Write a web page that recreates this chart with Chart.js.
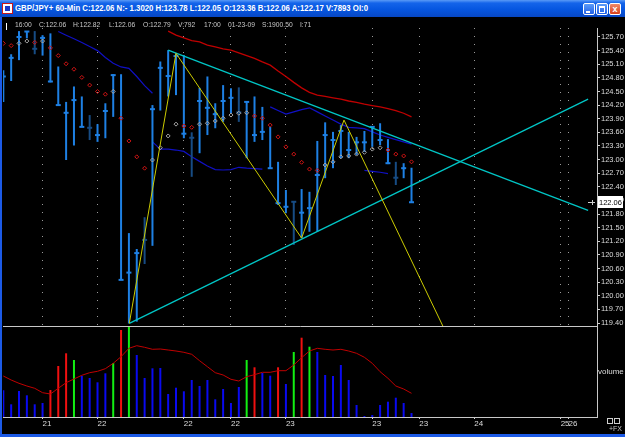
<!DOCTYPE html>
<html>
<head>
<meta charset="utf-8">
<title>GBP/JPY 60-Min</title>
<script src="https://cdn.jsdelivr.net/npm/chart.js@4.4.1/dist/chart.umd.min.js"></script>
<style>
    html, body { margin: 0; padding: 0; background: #000; }
    #win { position: relative; width: 625px; height: 437px; overflow: hidden; background: #000; font-family: "Liberation Sans", Arial, sans-serif; }
    #titlebar { position: absolute; left: 0; top: 0; width: 625px; height: 17px; background: linear-gradient(#5a9af6 0%, #1464ea 18%, #0656e0 55%, #0747c4 100%); }
    #icon { position: absolute; left: 2px; top: 3px; width: 9px; height: 9px; background: #fff; border: 1px solid #c81818; }
    #icon i { position: absolute; left: 2px; top: 2px; width: 5px; height: 5px; background: #1838c8; }
    #titletext { position: absolute; left: 15px; top: 3px; color: #fff; font-weight: bold; font-size: 9px; line-height: 11px; white-space: nowrap; transform-origin: 0 0; display: inline-block; }
    .btn { position: absolute; top: 3px; width: 10px; height: 10px; border: 1px solid #fff; border-radius: 2px; background: linear-gradient(#5c9cf8, #2060e8); }
    #bmin { left: 583px; }
    #bmin i { position: absolute; left: 2px; top: 7px; width: 4px; height: 2px; background: #fff; }
    #bmax { left: 596px; }
    #bmax i { position: absolute; left: 2px; top: 2px; width: 4px; height: 4px; border: 1px solid #fff; border-top-width: 2px; }
    #bclose { left: 609px; background: linear-gradient(#f08a6a, #d8401c); color: #fff; font: bold 9px/10px "Liberation Sans", Arial, sans-serif; text-align: center; }
    #cursor { position: absolute; left: 6px; top: 23px; width: 1px; height: 7px; background: #fff; }
    .info { position: absolute; top: 20px; color: #c8c8c8; font-size: 8px; line-height: 10px; white-space: nowrap; transform: scaleX(0.84); transform-origin: 0 0; }
    canvas { position: absolute; left: 0; }
    #frameLeft { position: absolute; left: 0; top: 17px; width: 2px; height: 420px; background: #1c5ae6; }
    #frameBottom { position: absolute; left: 0; top: 434px; width: 625px; height: 3px; background: #1c5ae6; }
    .sq { position: absolute; top: 418px; width: 4px; height: 4px; border: 1px solid #d0d0d0; }
    #fx { position: absolute; left: 609px; top: 425px; color: #c8c8c8; font-size: 7px; line-height: 8px; }
</style>
</head>
<body>
<div id="win">
    <div id="titlebar">
        <div id="icon"><i></i></div>
        <span id="titletext">GBP/JPY+ 60-Min C:122.06 N:- 1.3020 H:123.78 L:122.05 O:123.36 B:122.06 A:122.17 V:7893 OI:0</span>
        <div class="btn" id="bmin"><i></i></div>
        <div class="btn" id="bmax"><i></i></div>
        <div class="btn" id="bclose">x</div>
    </div>

    <canvas id="priceChart" width="625" height="310" style="top:17px;width:625px;height:310px"></canvas>
    <canvas id="volumeChart" width="625" height="110" style="top:327px;width:625px;height:110px"></canvas>

    <div id="cursor"></div>
    <span class="info" style="left:15px">16:00</span>
    <span class="info" style="left:39px">C:122.06</span>
    <span class="info" style="left:73px">H:122.82</span>
    <span class="info" style="left:109px">L:122.06</span>
    <span class="info" style="left:143px">O:122.79</span>
    <span class="info" style="left:178px">V:792</span>
    <span class="info" style="left:204px">17:00</span>
    <span class="info" style="left:228px">01-23-09</span>
    <span class="info" style="left:262px">S:1900.50</span>
    <span class="info" style="left:300px">I:71</span>

    <div id="frameLeft"></div>
    <div id="frameBottom"></div>
    <div class="sq" style="left:607px"></div>
    <div class="sq" style="left:614px"></div>
    <div id="fx">+FX</div>
</div>

<script>
// hourly bars, index 0..52
const highs = [
    124.97, 125.32, 125.83, 125.83, 125.83, 125.74, 125.78, 125.05, 124.27, 124.61,
    124.39, 123.98, 123.78, 124.24, 124.88, 124.88, 121.38, 121.03, 121.73, 124.20,
    125.16, 125.41, 125.34, 125.30, 123.60, 124.58, 124.83, 124.24, 124.64, 124.57,
    124.59, 124.27, 124.39, 124.16, 123.72, 122.95, 122.33, 122.07, 122.35, 122.29,
    123.41, 123.82, 123.61, 123.76, 123.61, 123.50, 123.63, 123.72, 123.80, 123.45,
    122.95, 122.92, 122.82
];
const lows = [
    124.27, 124.73, 125.19, 125.67, 125.32, 125.29, 124.70, 124.20, 122.99, 123.31,
    123.72, 123.43, 123.39, 123.47, 123.94, 120.35, 119.39, 119.43, 120.70, 121.10,
    124.08, 124.39, 124.42, 123.47, 122.62, 123.14, 123.54, 123.69, 123.83, 124.02,
    123.83, 123.03, 123.39, 123.43, 122.81, 122.00, 121.82, 121.12, 121.27, 121.41,
    121.41, 122.59, 122.81, 123.03, 123.03, 123.10, 123.17, 123.28, 123.32, 122.90,
    122.44, 122.59, 122.06
];
const closes = [
    124.83, 125.24, 125.70, 125.82, 125.44, 125.68, 124.72, 124.20, 124.03, 124.31,
    123.72, 123.70, 123.54, 124.07, 124.86, 120.35, 120.51, 120.94, 121.23, 124.11,
    125.02, 124.84, 125.28, 123.57, 123.48, 124.29, 124.14, 124.00, 124.29, 124.36,
    124.04, 124.27, 123.54, 123.61, 122.81, 122.04, 121.96, 122.07, 121.83, 121.93,
    122.66, 123.54, 123.43, 123.63, 123.21, 123.38, 123.38, 123.72, 123.43, 122.92,
    122.60, 122.81, 122.06
];
// bars drawn in the darker shade
const shadedBars = [4, 11, 18, 24, 30, 37, 50];

// diamond indicator
const dots = [
    125.56, 125.51, 125.56, 125.61, 125.58, 125.61, 125.46, 125.29, 125.11, 124.99,
    124.81, 124.64, 124.50, 124.44, 124.50, 123.91, 123.41, 123.06, 122.81, 122.99,
    123.26, 123.52, 123.78, 123.74, 123.71, 123.78, 123.80, 123.85, 123.91, 123.98,
    124.02, 124.03, 123.96, 123.91, 123.76, 123.50, 123.28, 123.12, 122.94, 122.79,
    122.76, 122.88, 122.95, 123.06, 123.08, 123.12, 123.16, 123.23, 123.26, 123.21,
    123.12, 123.08, 122.95
];

// red moving average and the blue band pieces
const redAverage = [
    null, null, null, null, null, null, null, null, null, null,
    null, null, null, null, null, null, null, null, null, null,
    null, 125.83, 125.74, 125.68, 125.62, 125.59, 125.52, 125.48, 125.44, 125.41,
    125.35, 125.29, 125.23, 125.15, 125.08, 124.95, 124.83, 124.70, 124.58, 124.48,
    124.42, 124.39, 124.36, 124.33, 124.29, 124.26, 124.22, 124.19, 124.16, 124.12,
    124.08, 124.02, 123.94
];
const upperBand = [
    null, null, null, null, null, null, null, 125.82, 125.74, 125.66,
    125.58, 125.49, 125.40, 125.25, 125.12, 125.04, 125.01, 124.83, 124.63, 124.46,
    null, null, null, null, null, null, null, null, null, null,
    null, null, null, null, 124.16, 124.08, 124.00, 124.05, 124.10, 124.14,
    124.05, 123.96, 123.87, 123.78, 123.71, 123.70, 123.68, 123.61, 123.54, 123.49,
    123.44, 123.39, 123.34
];
const lowerBand = [
    null, null, null, null, null, null, null, null, null, null,
    null, null, null, null, null, null, null, null, null, 123.39,
    123.23, 123.23, 123.21, 123.18, 123.06, 122.96, 122.86, 122.78, 122.77, 122.78,
    122.83, 122.81, 122.80, 122.79, null, null, null, null, null, null,
    null, null, null, null, null, null, 122.76, 122.74, 122.72, 122.69,
    null, null, null
];

// drawn studies: [bar index, price]
const resistanceLine = [[21.0, 125.41], [74.5, 121.88]];
const supportLine = [[16.05, 119.39], [74.5, 124.33]];
const zigzag = [[16.05, 119.39], [22.0, 125.34], [38.0, 121.27], [43.4, 123.87], [56.0, 119.33]];

// volume and its average
const volumes = [
    5340, 2540, 5200, 4340, 2540, 2800, 5400, 10200, 12740, 11400,
    8200, 7800, 6940, 8740, 10800, 17400, 18060, 12400, 7800, 9740,
    9800, 4600, 5860, 5140, 7400, 6200, 7400, 3540, 5600, 2800,
    6000, 11400, 9940, 8800, 8260, 9940, 6600, 13000, 15860, 14060,
    13000, 8400, 8200, 10400, 7400, 2400, 200, 400, 2400, 3060,
    3860, 2800, 792
];
const volumeAverage = [
    8200, 7400, 6740, 6200, 5740, 4860, 4600, 5740, 6860, 7600,
    8340, 8860, 9140, 9660, 10740, 12060, 13740, 14260, 13940, 13540,
    13600, 13400, 13200, 12940, 12540, 11260, 10060, 8860, 8400, 7540,
    7200, 8060, 8460, 8940, 8940, 9260, 9260, 10400, 11860, 13200,
    13740, 13540, 13400, 13540, 13200, 12740, 11940, 10740, 9060, 7740,
    6200, 5600, 4740
];

// axes
const priceTicks = [
    119.40, 119.70, 120.00, 120.30, 120.60, 120.90, 121.20, 121.50, 121.80, 122.10,
    122.40, 122.70, 123.00, 123.30, 123.60, 123.90, 124.20, 124.50, 124.80, 125.10,
    125.40, 125.70
];
const dateTickIndex = [5, 12, 23, 29, 36, 47, 53, 60, 71, 72];
const dateTickLabels = ["21", "22", "22", "22", "23", "23", "23", "24", "25", "26"];
const volumeLabel = "volume";

const X_MIN = -0.04, X_MAX = 75.63;
const FONT_FAMILY = "'Liberation Sans', Arial, sans-serif";
const AXIS_FONT = { family: FONT_FAMILY, size: 7.5 };

let priceChart, volumeChart;

function fixedAxis(size) {
    return scale => {
        if (scale.isHorizontal()) {
            scale.height = size;
            scale.paddingLeft = 0;
            scale.paddingRight = 0;
        } else {
            scale.width = size;
            scale.paddingTop = 0;
            scale.paddingBottom = 0;
        }
    };
}

function series(values) {
    return values.map((v, i) => ({ x: i, y: v }));
}

function points(list) {
    return list.map(p => ({ x: p[0], y: p[1] }));
}

function barColor(i) {
    return shadedBars.includes(i) ? "#174c84" : "#1e80e4";
}

function volumeColor(i) {
    if (volumes[i] < volumeAverage[i]) return "#0a0af0";
    return i > 0 && closes[i] < closes[i - 1] ? "#f01010" : "#12f012";
}

// current price box on the right axis
const lastPriceLabel = {
    id: "lastPriceLabel",
    afterDraw(chart) {
        const { ctx, chartArea, scales } = chart;
        const last = closes[closes.length - 1];
        const y = Math.round(scales.y.getPixelForValue(last));
        ctx.save();
        ctx.fillStyle = "#ffffff";
        ctx.fillRect(chartArea.right + 1, y - 6, 25, 12);
        ctx.fillStyle = "#000000";
        ctx.font = "7.5px " + FONT_FAMILY;
        ctx.textBaseline = "middle";
        ctx.fillText(last.toFixed(2), chartArea.right + 2, y + 0.5);
        ctx.strokeStyle = "#d0d0d0";
        ctx.lineWidth = 1;
        ctx.beginPath();
        ctx.moveTo(chartArea.right - 9, y + 0.5);
        ctx.lineTo(chartArea.right - 2, y + 0.5);
        ctx.moveTo(chartArea.right - 4.5, y - 2);
        ctx.lineTo(chartArea.right - 4.5, y + 3);
        ctx.stroke();
        ctx.restore();
    }
};

function renderPriceChart() {
    const ctx = document.getElementById("priceChart");

    priceChart = new Chart(ctx, {
        type: "scatter",
        data: {
            datasets: [
                {
                    type: "line",
                    label: "Zigzag",
                    data: points(zigzag),
                    borderColor: "#cccc00",
                    borderWidth: 1,
                    pointRadius: 0,
                    order: 0
                },
                {
                    type: "line",
                    label: "Resistance",
                    data: points(resistanceLine),
                    borderColor: "#00c6c6",
                    borderWidth: 1.3,
                    pointRadius: 0,
                    order: 1
                },
                {
                    type: "line",
                    label: "Support",
                    data: points(supportLine),
                    borderColor: "#00c6c6",
                    borderWidth: 1.3,
                    pointRadius: 0,
                    order: 1
                },
                {
                    type: "scatter",
                    label: "Dots",
                    data: series(dots),
                    pointStyle: "rectRot",
                    pointRadius: 2,
                    pointBorderWidth: 1,
                    pointBackgroundColor: "rgba(0,0,0,0)",
                    pointBorderColor: c => dots[c.dataIndex] > closes[c.dataIndex] ? "#d41414" : "#a8a8a8",
                    order: 2
                },
                {
                    type: "scatter",
                    label: "Close",
                    data: series(closes),
                    pointStyle: "line",
                    pointRadius: 2.5,
                    pointBorderWidth: 2,
                    pointBorderColor: c => barColor(c.dataIndex),
                    order: 3
                },
                {
                    type: "bar",
                    label: "Range",
                    data: highs.map((h, i) => ({ x: i, y: [lows[i], h] })),
                    barThickness: 2,
                    inflateAmount: 0,
                    backgroundColor: c => barColor(c.dataIndex),
                    order: 4
                },
                {
                    type: "line",
                    label: "Average",
                    data: series(redAverage),
                    borderColor: "#c00000",
                    borderWidth: 1.3,
                    pointRadius: 0,
                    order: 5
                },
                {
                    type: "line",
                    label: "Upper",
                    data: series(upperBand),
                    borderColor: "#1010c4",
                    borderWidth: 1.2,
                    pointRadius: 0,
                    order: 5
                },
                {
                    type: "line",
                    label: "Lower",
                    data: series(lowerBand),
                    borderColor: "#1010c4",
                    borderWidth: 1.2,
                    pointRadius: 0,
                    order: 5
                }
            ]
        },
        options: {
            responsive: false,
            maintainAspectRatio: false,
            animation: false,
            devicePixelRatio: 1,
            events: [],
            layout: { autoPadding: false, padding: { left: 3, top: 11, right: 0, bottom: 1 } },
            plugins: { legend: { display: false }, tooltip: { enabled: false } },
            scales: {
                x: {
                    type: "linear",
                    min: X_MIN,
                    max: X_MAX,
                    bounds: "data",
                    offset: false,
                    afterBuildTicks: scale => { scale.ticks = dateTickIndex.map(v => ({ value: v })); },
                    afterFit: fixedAxis(0),
                    ticks: { display: false, autoSkip: false },
                    grid: { offset: false, color: "#9a9a9a", lineWidth: 1, drawTicks: false },
                    border: { display: true, color: "#c8c8c8", width: 1, dash: [1, 7] }
                },
                y: {
                    type: "linear",
                    position: "right",
                    min: 119.334,
                    max: 125.898,
                    bounds: "data",
                    afterBuildTicks: scale => { scale.ticks = priceTicks.map(v => ({ value: v })); },
                    afterFit: fixedAxis(28),
                    ticks: {
                        autoSkip: false,
                        color: "#dcdcdc",
                        font: AXIS_FONT,
                        padding: 1,
                        callback: v => Number(v).toFixed(2)
                    },
                    grid: { drawOnChartArea: false, drawTicks: true, tickLength: 3, tickColor: "#d0d0d0" },
                    border: { display: true, color: "#c8c8c8", width: 1 }
                }
            }
        },
        plugins: [lastPriceLabel]
    });
}

function renderVolumeChart() {
    const ctx = document.getElementById("volumeChart");

    volumeChart = new Chart(ctx, {
        type: "bar",
        data: {
            datasets: [
                {
                    type: "line",
                    label: "Volume average",
                    data: series(volumeAverage),
                    borderColor: "#c00000",
                    borderWidth: 1,
                    pointRadius: 0,
                    order: 0
                },
                {
                    type: "bar",
                    label: "Volume",
                    data: series(volumes),
                    barThickness: 2,
                    inflateAmount: 0,
                    backgroundColor: c => volumeColor(c.dataIndex),
                    order: 1
                }
            ]
        },
        options: {
            responsive: false,
            maintainAspectRatio: false,
            animation: false,
            devicePixelRatio: 1,
            events: [],
            layout: { autoPadding: false, padding: { left: 3, top: 0, right: 0, bottom: 0 } },
            plugins: { legend: { display: false }, tooltip: { enabled: false } },
            scales: {
                x: {
                    type: "linear",
                    min: X_MIN,
                    max: X_MAX,
                    bounds: "data",
                    offset: false,
                    afterBuildTicks: scale => { scale.ticks = dateTickIndex.map(v => ({ value: v })); },
                    afterFit: fixedAxis(20),
                    ticks: {
                        autoSkip: false,
                        maxRotation: 0,
                        align: "start",
                        padding: 0,
                        color: "#dcdcdc",
                        font: { family: FONT_FAMILY, size: 8 },
                        callback: (v, i) => dateTickLabels[i]
                    },
                    grid: { offset: false, drawOnChartArea: false, drawTicks: true, tickLength: 2, tickColor: "#d0d0d0" },
                    border: { display: true, color: "#c8c8c8", width: 1 }
                },
                y: {
                    type: "linear",
                    position: "right",
                    min: 0,
                    max: 18000,
                    bounds: "data",
                    afterBuildTicks: scale => { scale.ticks = [{ value: 9000 }]; },
                    afterFit: fixedAxis(28),
                    ticks: { color: "#dcdcdc", font: { family: FONT_FAMILY, size: 8 }, padding: 1, callback: () => volumeLabel },
                    grid: { drawOnChartArea: false, drawTicks: false },
                    border: { display: true, color: "#c8c8c8", width: 1 }
                }
            }
        }
    });
}

function fitTitle() {
    const el = document.getElementById("titletext");
    const w = el.getBoundingClientRect().width;
    el.style.transform = "scaleX(" + (353 / w) + ")";
}

document.addEventListener("DOMContentLoaded", () => {
    fitTitle();
    renderPriceChart();
    renderVolumeChart();
});
</script>
</body>
</html>
